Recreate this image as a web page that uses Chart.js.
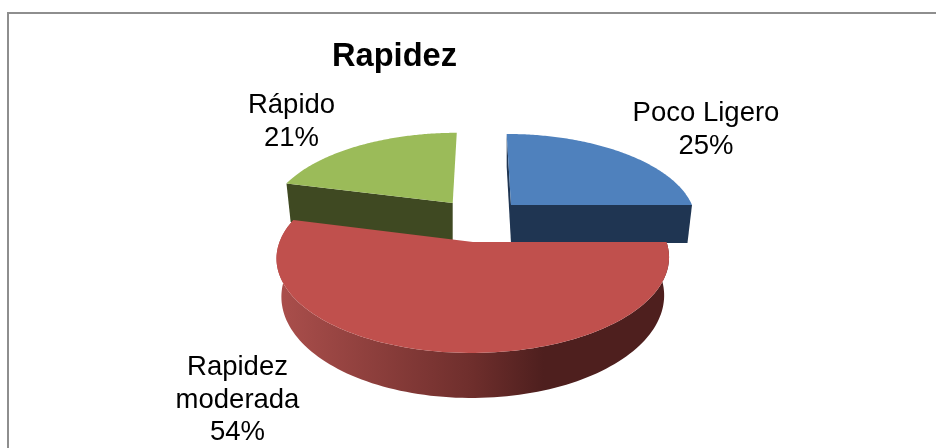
<!DOCTYPE html>
<html>
<head>
<meta charset="utf-8">
<title>Rapidez</title>
<style>
html,body{margin:0;padding:0;background:#fff}
canvas{display:block}
</style>
<script src="https://cdn.jsdelivr.net/npm/chart.js@4"></script>
</head>
<body>
<canvas id="c" width="936" height="448"></canvas>
<script>
const chartTitle = 'Rapidez';
const categories = ['Poco Ligero', 'Rapidez moderada', 'Rápido'];
const values = [25, 54, 21];

const topColors = ['#4F81BD', '#C0504D', '#9BBB59'];
const faceColors = ['#1F3552', null, '#3F4922'];

// 3D projection of each exploded slice (style only)
const VANISH_X = 481, PERSPECTIVE = 0.168, BOTTOM_SCALE = 0.975;
const sliceGeometry = [
  {cx: 511, cy: 205, rx: 181, ry: 83, cyB: 243, ryB: 89, faces: ['start', 'end']},
  {cx: 473, cy: 242, rx: 193.5, ry: 92.3, cyB: 279, ryB: 99, faces: []},
  {cx: 452.7, cy: 203, rx: 180, ry: 82, cyB: 243, ryB: 88, faces: ['start']}
];
const labelLayout = [
  {x: 706, y: 121, lines: ['Poco Ligero']},
  {x: 237.5, y: 375, lines: ['Rapidez', 'moderada']},
  {x: 291.5, y: 113, lines: ['Rápido']}
];
const FONT = '"Liberation Sans", Arial, sans-serif';

function project(g, theta, bottom) {
  const u = Math.sin(theta), v = -Math.cos(theta), w = 1 - PERSPECTIVE * v;
  const k = bottom ? BOTTOM_SCALE : 1;
  return {
    x: VANISH_X + (g.cx - VANISH_X + g.rx * k * u) / w,
    y: (bottom ? g.cyB : g.cy) + (bottom ? g.ryB : g.ry) * v / w
  };
}
function apex(g, bottom) {
  return {x: g.cx, y: bottom ? g.cyB : g.cy};
}
function arcPoints(g, a, b, bottom) {
  const pts = [], n = 120;
  for (let i = 0; i <= n; i++) pts.push(project(g, a + (b - a) * i / n, bottom));
  return pts;
}
function fillPoly(ctx, pts, color) {
  ctx.beginPath();
  pts.forEach((p, i) => i ? ctx.lineTo(p.x, p.y) : ctx.moveTo(p.x, p.y));
  ctx.closePath();
  ctx.fillStyle = color;
  ctx.fill();
}

const pie3d = {
  id: 'pie3d',
  beforeDatasetsDraw(chart) {
    const ctx = chart.ctx;
    const arcs = chart.getDatasetMeta(0).data;
    // far slices first, the large near slice last
    [0, 2, 1].forEach(i => {
      const el = arcs[i], g = sliceGeometry[i];
      const a = el.startAngle + Math.PI / 2, b = el.endAngle + Math.PI / 2;
      if (faceColors[i]) {
        g.faces.forEach(f => {
          const t = f === 'start' ? a : b;
          fillPoly(ctx, [apex(g, false), project(g, t, false), project(g, t, true), apex(g, true)], faceColors[i]);
        });
      } else {
        const grad = ctx.createLinearGradient(277, 0, 669, 0);
        grad.addColorStop(0, '#AB4F4C');
        grad.addColorStop(0.5, '#6E2E2C');
        grad.addColorStop(0.68, '#4E1F1E');
        grad.addColorStop(1, '#4E1F1E');
        const wall = arcPoints(g, a, b, false).concat(arcPoints(g, a, b, true).reverse());
        fillPoly(ctx, wall, grad);
      }
      const top = [apex(g, false)].concat(arcPoints(g, a, b, false));
      fillPoly(ctx, top, el.options.backgroundColor);
    });
    return false;
  },
  afterDraw(chart) {
    const ctx = chart.ctx;
    ctx.save();
    ctx.fillStyle = '#8E8E8E';
    ctx.fillRect(7, 12, chart.width - 7, 2);
    ctx.fillRect(7, 12, 2, chart.height - 12);
    ctx.fillStyle = '#000';
    ctx.textAlign = 'center';
    ctx.textBaseline = 'alphabetic';
    ctx.font = 'bold 32.6px ' + FONT;
    ctx.fillText(chartTitle, 394.5, 66);
    ctx.font = '27.5px ' + FONT;
    const total = values.reduce((s, v) => s + v, 0);
    labelLayout.forEach((l, i) => {
      const lines = l.lines.concat([Math.round(values[i] / total * 100) + '%']);
      lines.forEach((t, j) => ctx.fillText(t, l.x, l.y + j * 32.5));
    });
    ctx.restore();
  }
};

new Chart(document.getElementById('c'), {
  type: 'pie',
  data: {
    labels: categories,
    datasets: [{data: values, backgroundColor: topColors, borderWidth: 0}]
  },
  options: {
    responsive: false,
    animation: false,
    plugins: {legend: {display: false}, title: {display: false}, tooltip: {enabled: false}}
  },
  plugins: [pie3d]
});
</script>
</body>
</html>
